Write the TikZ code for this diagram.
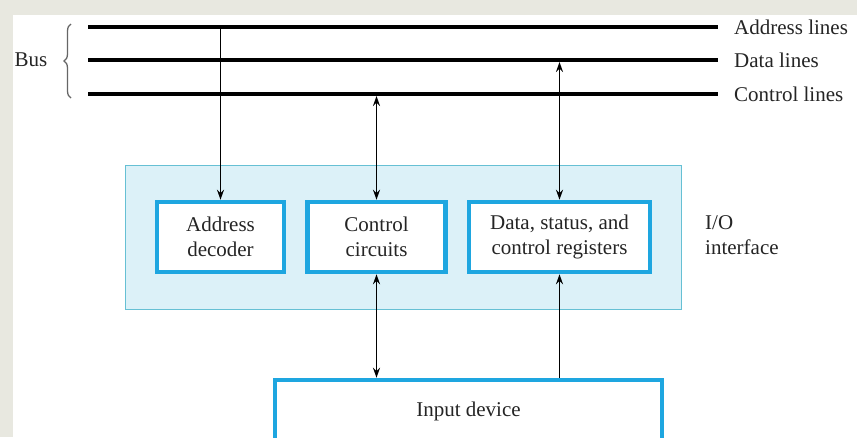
\documentclass[tikz,border=0pt]{standalone}
\usepackage{fontspec}
\setmainfont{Liberation Serif}
\usetikzlibrary{arrows.meta,decorations.pathreplacing}
\definecolor{frameg}{HTML}{E8E8E0}
\definecolor{ifill}{HTML}{DCF1F8}
\definecolor{iedge}{HTML}{66C0D4}
\definecolor{bblue}{HTML}{1EA6E0}
\definecolor{txt}{HTML}{252525}
\tikzset{
  blk/.style={draw=bblue, line width=4.5pt, fill=white, align=center, inner sep=0pt, text=txt},
  busline/.style={line width=4.6pt, black},
  lbl/.style={anchor=west, text=txt, inner sep=0pt},
  conn/.style={line width=1.7pt, black, >={Stealth[length=10pt,width=7pt]}},
}
\begin{document}
\begin{tikzpicture}[x=1pt,y=-1pt,font=\fontsize{21}{25.5}\selectfont]
\useasboundingbox (0,0) rectangle (857,437);
\begin{scope}
\clip (0,0) rectangle (857,437);
\fill[frameg] (0,0) rectangle (857,437);
\fill[white] (13,15) rectangle (857,437);
% bus lines
\coordinate (AL) at (88,27);  \coordinate (AR) at (718,27);
\coordinate (DL) at (88,60);  \coordinate (DR) at (718,60);
\coordinate (CL) at (88,94);  \coordinate (CR) at (718,94);
\draw[busline] (AL) -- (AR);
\draw[busline] (DL) -- (DR);
\draw[busline] (CL) -- (CR);
\node[lbl] (al) at (734,27) {Address lines};
\node[lbl] (dl) at (734,60) {Data lines};
\node[lbl] (cl) at (734,94) {Control lines};
\node[text=txt, inner sep=0pt] (bus) at (31,60) {Bus};
\draw[gray!80!black, line width=1.3pt, decorate, decoration={brace, amplitude=7pt}] (71,98) -- (71,24);
% interface
\node[draw=iedge, fill=ifill, line width=1.6pt, minimum width=556pt, minimum height=144pt, inner sep=0pt] (iface) at (403.5,237.5) {};
\node[blk, minimum width=127pt, minimum height=70pt] (adec) at (220.5,237) {Address\\decoder};
\node[blk, minimum width=138pt, minimum height=70pt] (ctrl) at (376.5,237) {Control\\circuits};
\node[blk, minimum width=181pt, minimum height=70pt] (dreg) at (559.5,237) {Data, status, and\\control registers};
\node[lbl, align=left] (io) at (705,235) {I/O\\interface};
\node[blk, minimum width=387pt, minimum height=62pt] (inp) at (468.5,411) {Input device};
% connectors
\draw[conn,->] (adec.north |- AL) -- (adec.north);
\draw[conn,<->, shorten <=2pt] (ctrl.north |- CL) -- (ctrl.north);
\draw[conn,<->, shorten <=2pt] (dreg.north |- DL) -- (dreg.north);
\draw[conn,<->] (ctrl.south) -- (ctrl.south |- inp.north);
\draw[conn,<-] (dreg.south) -- (dreg.south |- inp.north);
\end{scope}
\end{tikzpicture}
\end{document}
